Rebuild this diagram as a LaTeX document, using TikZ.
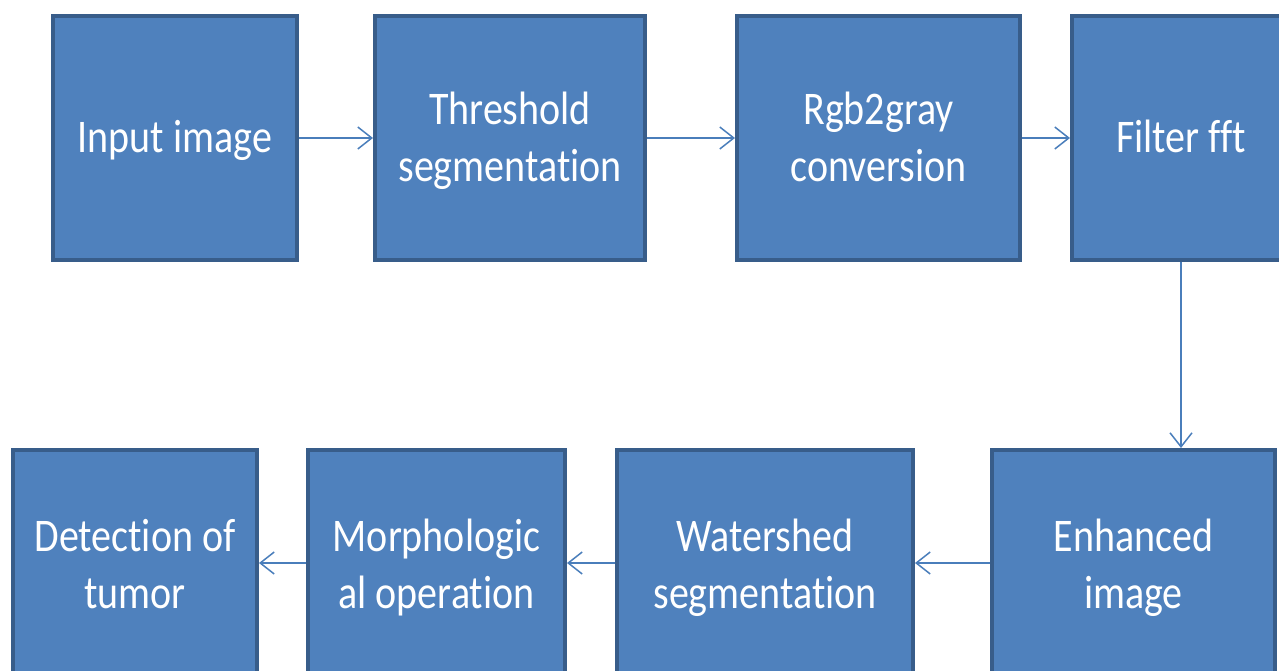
\documentclass[tikz,border=0pt]{standalone}
\usepackage{graphicx}
\usepackage{fontspec}
\setmainfont[Ligatures=NoCommon]{Carlito}
\usetikzlibrary{arrows.meta}
\definecolor{boxfill}{HTML}{4F81BD}
\definecolor{boxline}{HTML}{385D8A}
\definecolor{flowline}{HTML}{4A7EBB}
\tikzset{
  stepbox/.style={draw=boxline, fill=boxfill, line width=4pt, text=white,
    inner sep=0pt, font=\fontsize{40}{49}\selectfont},
  flow/.style={draw=flowline, line width=1.5pt,
    -{Straight Barb[length=14pt,width=22pt,line width=1.5pt]}}
}
\newcommand{\stepBox}[6]{ \node[stepbox, minimum width=#3, minimum height=#4]
  (#5) at (#1,#2) {\raisebox{0pt}[\dimexpr\height+7pt][\depth]{%
    \scalebox{1}[1.17]{\begin{tabular}{@{}c@{}}#6\end{tabular}}}}; }

\begin{document}
\begin{tikzpicture}[x=1pt, y=-1pt]
    \useasboundingbox (0,0) rectangle (1279,671);
    \stepBox{175}{138}{244}{244}{input}{Input image}
    \stepBox{510}{138}{270}{244}{threshold}{Threshold\\segmentation}
    \stepBox{878.5}{138}{283}{244}{rgbgray}{Rgb2gray\\conversion}
    \stepBox{1181}{138}{218}{244}{filter}{Filter fft}
    \stepBox{1133.5}{565}{283}{230}{enhanced}{Enhanced\\image}
    \stepBox{765}{565}{296}{230}{watershed}{Watershed\\segmentation}
    \stepBox{436.5}{565}{257}{230}{morph}{Morphologic\\al operation}
    \stepBox{135}{565}{244}{230}{detect}{Detection of\\tumor}
    \draw[flow] (input) -- (threshold);
    \draw[flow] (threshold) -- (rgbgray);
    \draw[flow] (rgbgray) -- (filter);
    \draw[flow] (filter) -- (filter |- enhanced.north);
    \draw[flow] (enhanced.west |- 0,563) -- (watershed.east |- 0,563);
    \draw[flow] (watershed.west |- 0,563) -- (morph.east |- 0,563);
    \draw[flow] (morph.west |- 0,563) -- (detect.east |- 0,563);
  \end{tikzpicture}
\end{document}
